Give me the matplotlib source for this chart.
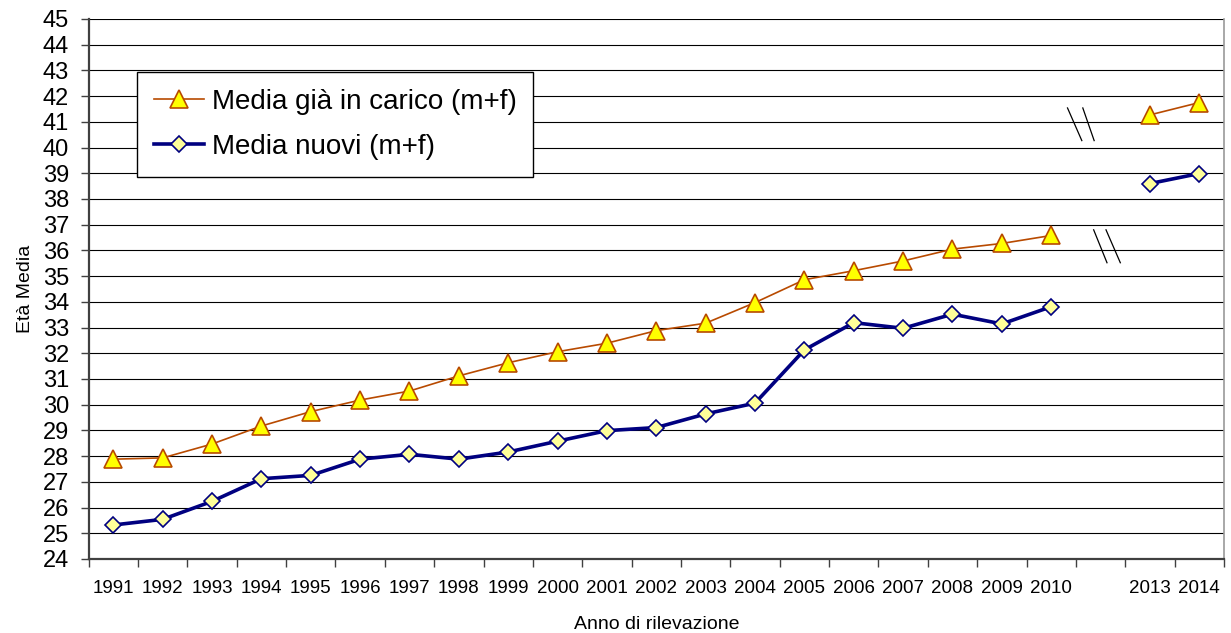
import numpy as np
import matplotlib
matplotlib.use("Agg")
import matplotlib.pyplot as plt

# ------------------------------------------------------------
# DATA
# ------------------------------------------------------------
anni = ["1991", "1992", "1993", "1994", "1995", "1996", "1997", "1998",
        "1999", "2000", "2001", "2002", "2003", "2004", "2005", "2006",
        "2007", "2008", "2009", "2010", "", "2013", "2014"]

media_carico = [27.88, 27.93, 28.47, 29.17, 29.73, 30.18, 30.53, 31.12,
                31.63, 32.06, 32.39, 32.88, 33.17, 33.97, 34.86, 35.21,
                35.59, 36.05, 36.27, 36.58, np.nan, 41.27, 41.75]

media_nuovi = [25.32, 25.54, 26.24, 27.12, 27.25, 27.88, 28.07, 27.88,
               28.16, 28.58, 28.99, 29.11, 29.64, 30.06, 32.13, 33.19,
               32.97, 33.52, 33.14, 33.81, np.nan, 38.60, 38.99]

y_ticks = list(range(24, 46))

# ------------------------------------------------------------
# PLOT
# ------------------------------------------------------------
plt.rcParams['font.family'] = ['Liberation Sans', 'DejaVu Sans']

fig = plt.figure(figsize=(12.31, 6.33), dpi=100)
ax = fig.add_axes([0.072, 0.117, 0.9223, 0.853])

x = np.arange(len(anni))

ax.plot(x, media_carico, color='#B84A00', lw=1.2, marker='^',
        markersize=12.5, markerfacecolor='#FFFF00', markeredgecolor='#B84A00',
        markeredgewidth=1.2, label='Media già in carico (m+f)', zorder=3)
ax.plot(x, media_nuovi, color='#000080', lw=2.6, marker='D',
        markersize=8, markerfacecolor='#FFFF99', markeredgecolor='#000080',
        markeredgewidth=1.2, label='Media nuovi (m+f)', zorder=4)

# break marks (axis interruption between 2010 and 2013)
for x0, x1, y0, y1 in [(19.33, 19.62, 41.54, 40.27), (19.64, 19.87, 41.54, 40.27),
                       (19.86, 20.13, 36.80, 35.52), (20.11, 20.40, 36.80, 35.52)]:
    ax.plot([x0, x1], [y0, y1], color='black', lw=0.9, zorder=5)

ax.set_xlim(-0.5, len(anni) - 0.5)
ax.set_ylim(24, 45)

ax.set_yticks(y_ticks)
ax.tick_params(axis='y', labelsize=17, length=6, width=1, pad=8, colors='#404040',
               labelcolor='black')
for yv in y_ticks[1:]:
    ax.axhline(yv, color='black', lw=0.8, zorder=1)

# ticks between categories, labels at centres
ax.set_xticks(np.arange(-0.5, len(anni), 1.0))
ax.set_xticklabels([])
ax.set_xticks(x, minor=True)
ax.set_xticklabels(anni, minor=True, fontsize=13.5)
ax.tick_params(axis='x', which='major', length=6, width=1, colors='#404040')
ax.tick_params(axis='x', which='minor', length=0, pad=15)

for s in ['left', 'bottom']:
    ax.spines[s].set_color('#404040')
    ax.spines[s].set_linewidth(1.6)
ax.spines['top'].set_visible(False)
ax.spines['right'].set_color('#999999')
ax.spines['right'].set_linewidth(1.2)

ax.set_ylabel("Età Media", fontsize=14, labelpad=6)
ax.set_xlabel("Anno di rilevazione", fontsize=14, labelpad=14)

leg = ax.legend(loc='upper left', bbox_to_anchor=(0.0425, 0.902), fontsize=20,
                frameon=True, fancybox=False, framealpha=1, edgecolor='black',
                handlelength=1.8, handletextpad=0.3, labelspacing=0.7,
                borderpad=0.6, borderaxespad=0)
leg.get_frame().set_linewidth(1.0)
leg.set_zorder(6)

plt.savefig("out.png", dpi=100)
